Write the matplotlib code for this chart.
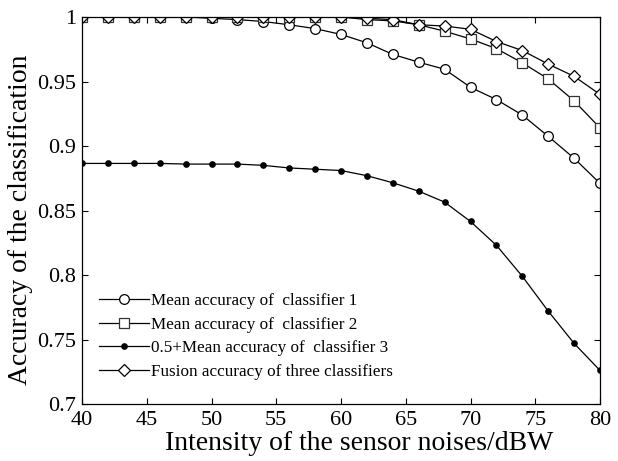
import numpy as np
import matplotlib
matplotlib.use('Agg')
import matplotlib.pyplot as plt

plt.rcParams['font.family'] = ['Liberation Serif', 'DejaVu Serif']
plt.rcParams['mathtext.fontset'] = 'stix'

noise = [40, 42, 44, 46, 48, 50, 52, 54, 56, 58, 60,
         62, 64, 66, 68, 70, 72, 74, 76, 78, 80]

acc_1 = [1.000, 1.000, 1.000, 1.000, 1.000, 0.999, 0.998, 0.9965, 0.994, 0.991, 0.9865,
         0.980, 0.971, 0.965, 0.9595, 0.9455, 0.936, 0.924, 0.9075, 0.8905, 0.871]
acc_2 = [1.000, 1.000, 1.000, 1.000, 1.000, 1.000, 1.000, 1.000, 1.000, 1.000, 1.000,
         0.998, 0.997, 0.994, 0.989, 0.983, 0.9755, 0.9645, 0.952, 0.935, 0.914]
acc_3 = [0.8865, 0.8865, 0.8865, 0.8865, 0.886, 0.886, 0.886, 0.885, 0.883, 0.882, 0.881,
         0.877, 0.8715, 0.865, 0.8565, 0.8415, 0.823, 0.799, 0.772, 0.747, 0.726]
acc_fused = [1.000, 1.000, 1.000, 1.000, 1.000, 1.000, 1.000, 1.000, 1.000, 1.000, 1.000,
             0.999, 0.998, 0.994, 0.993, 0.9905, 0.981, 0.974, 0.9635, 0.954, 0.940]

labels = ['Mean accuracy of  classifier 1',
          'Mean accuracy of  classifier 2',
          '0.5+Mean accuracy of  classifier 3',
          'Fusion accuracy of three classifiers']

x_ticks = [40, 45, 50, 55, 60, 65, 70, 75, 80]
y_ticks = [0.7, 0.75, 0.8, 0.85, 0.9, 0.95, 1.0]
y_tick_labels = ['0.7', '0.75', '0.8', '0.85', '0.9', '0.95', '1']

fig = plt.figure(figsize=(6.18, 4.61), dpi=100)
ax = fig.add_axes([0.1327, 0.1236, 0.8382, 0.8395])

lw = 0.9
ax.plot(noise, acc_1, color='k', lw=lw, marker='o', ms=7,
        mfc='white', mec='k', mew=0.9, label=labels[0])
ax.plot(noise, acc_2, color='k', lw=lw, marker='s', ms=7,
        mfc='white', mec='#333333', mew=0.9, label=labels[1])
ax.plot(noise, acc_3, color='k', lw=lw, marker='o', ms=3.8,
        mfc='k', mec='k', label=labels[2])
ax.plot(noise, acc_fused, color='k', lw=lw, marker='D', ms=6.3,
        mfc='white', mec='k', mew=0.9, label=labels[3])

ax.set_xlim(40, 80)
ax.set_ylim(0.7, 1.0)
ax.set_xticks(x_ticks)
ax.set_yticks(y_ticks)
ax.set_yticklabels(y_tick_labels)
ax.tick_params(direction='in', top=True, right=True, length=4, width=0.8,
               labelsize=16)
ax.tick_params(axis='x', pad=5)
ax.tick_params(axis='y', pad=4)
for s in ax.spines.values():
    s.set_linewidth(0.9)

ax.set_xlabel('Intensity of the sensor noises/dBW', fontsize=20)
ax.set_ylabel('Accuracy of the classification', fontsize=20)
ax.xaxis.set_label_coords(0.535, -0.07)
ax.yaxis.set_label_coords(-0.095, 0.475)

ax.legend(loc='lower left', bbox_to_anchor=(0.02, 0.045), frameon=False,
          fontsize=12.3, handlelength=2.9, handletextpad=0.15,
          labelspacing=0.44, borderaxespad=0)

fig.savefig('out.png', dpi=100)
